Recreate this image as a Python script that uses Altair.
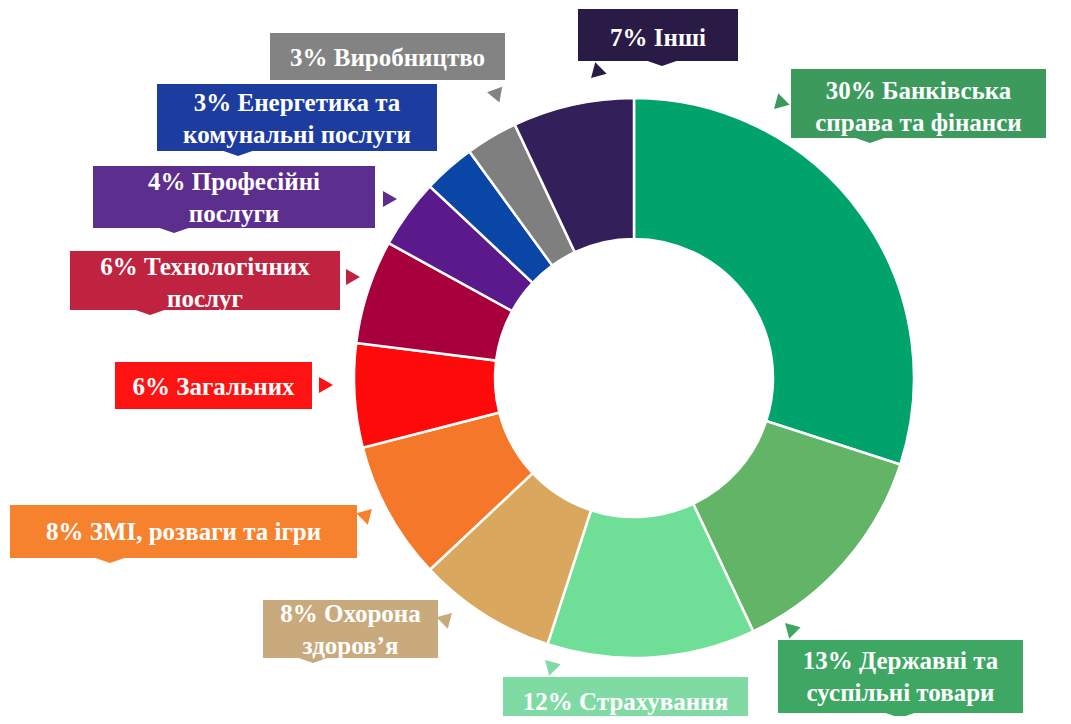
import altair as alt
import pandas as pd

# ---------------- data ----------------
categories = [
    "Банківська справа та фінанси", "Державні та суспільні товари", "Страхування",
    "Охорона здоров’я", "ЗМІ, розваги та ігри", "Загальних", "Технологічних послуг",
    "Професійні послуги", "Енергетика та комунальні послуги", "Виробництво", "Інші",
]
values = [30, 13, 12, 8, 8, 6, 6, 4, 3, 3, 7]
label_lines = [
    ["30% Банківська", "справа та фінанси"],
    ["13% Державні та", "суспільні товари"],
    ["12%  Страхування"],
    ["8% Охорона", "здоров’я"],
    ["8% ЗМІ, розваги та ігри"],
    ["6% Загальних"],
    ["6% Технологічних", "послуг"],
    ["4% Професійні", "послуги"],
    ["3% Енергетика та", "комунальні послуги"],
    ["3% Виробництво"],
    ["7% Інші"],
]

# ---------------- styles ----------------
slice_colors = ["#00A36C", "#62B466", "#6FDE97", "#D9A85E", "#F5782A", "#FF0A0A",
                "#A8003C", "#5A1A8C", "#0A46A6", "#7F7F7F", "#33205A"]
box_colors = ["#3C9A5D", "#3DA763", "#7FDBA3", "#C8AA7C", "#F7822E", "#FF1212",
              "#C0233F", "#5C2E8E", "#1C3CA0", "#838383", "#2A1A46"]
FONT_SIZE = 25
LINE_H = 32

# ---------------- layout (page pixel coords) ----------------
M = 8
W, H = 1071 - 2 * M, 724 - 2 * M
box_x1 = [791, 778, 503, 263, 10, 115, 70, 93, 157, 270, 578]
box_x2 = [1046, 1023, 748, 438, 357, 312, 340, 375, 437, 505, 738]
box_y1 = [69, 640, 677, 600, 505, 362, 251, 166, 84, 33, 9]
box_y2 = [138, 713, 726, 658, 558, 409, 310, 228, 151, 80, 61]
text_cy = [107, 677, 702, 630, 532, 387, 283, 198, 119, 58, 38]
ptr_x = [779, 790, 550, 447, 367, 326, 353, 390, None, 497, 596]
ptr_y = [104, 628, 665, 618, 514, 385, 277, 199, None, 96, 73]
ptr_a = [225, 315, 315, 45, 45, 90, 90, 90, 0, 160, 225]
notch_x = [870, 900, None, 313, 110, None, 150, 174, 238, None, 662]
notch_y = [138, 713, None, 658, 558, None, 310, 228, 151, None, 61]

pie = pd.DataFrame({"category": categories, "value": values,
                    "order": list(range(len(values))), "fill": slice_colors})

boxes = pd.DataFrame({
    "category": categories, "fill": box_colors,
    "x1": [v - M for v in box_x1], "x2": [v - M for v in box_x2],
    "y1": [v - M for v in box_y1], "y2": [v - M for v in box_y2],
})

text_rows = []
for lines, x1, x2, cy in zip(label_lines, box_x1, box_x2, text_cy):
    n = len(lines)
    for i, line in enumerate(lines):
        text_rows.append({"text": line, "x": (x1 + x2) / 2 - M,
                          "y": cy - M + (i - (n - 1) / 2) * LINE_H})
texts_df = pd.DataFrame(text_rows)

ptrs = pd.DataFrame([
    {"x": px - M, "y": py - M, "angle": a, "fill": c}
    for px, py, a, c in zip(ptr_x, ptr_y, ptr_a, box_colors) if px is not None
])
notches = pd.DataFrame([
    {"x": nx - M, "y": ny - M, "fill": c}
    for nx, ny, c in zip(notch_x, notch_y, box_colors) if nx is not None
])

xs = alt.Scale(domain=[0, W], range=[0, W], nice=False, zero=False)
ys = alt.Scale(domain=[0, H], range=[0, H], nice=False, zero=False)

arcs = alt.Chart(pie).mark_arc(innerRadius=139, outerRadius=280,
                               stroke="white", strokeWidth=2.5).encode(
    theta=alt.Theta("value:Q", stack=True),
    order=alt.Order("order:Q"),
    color=alt.Color("fill:N", scale=None),
    x=alt.value(634 - M),
    y=alt.value(378 - M),
)

rects = alt.Chart(boxes).mark_rect().encode(
    x=alt.X("x1:Q", scale=xs, axis=None), x2="x2:Q",
    y=alt.Y("y1:Q", scale=ys, axis=None), y2="y2:Q",
    color=alt.Color("fill:N", scale=None),
)

pointer = alt.Chart(ptrs).mark_point(shape="triangle-up", filled=True, opacity=1,
                                     size=260, strokeWidth=0).encode(
    x=alt.X("x:Q", scale=xs, axis=None),
    y=alt.Y("y:Q", scale=ys, axis=None),
    angle=alt.Angle("angle:Q", scale=None),
    color=alt.Color("fill:N", scale=None),
)

notch = alt.Chart(notches).mark_point(shape="M-1,-0.05L1,-0.05L0,0.3Z", filled=True,
                                      opacity=1, size=1100, strokeWidth=0).encode(
    x=alt.X("x:Q", scale=xs, axis=None),
    y=alt.Y("y:Q", scale=ys, axis=None),
    color=alt.Color("fill:N", scale=None),
)

texts = alt.Chart(texts_df).mark_text(
    font="Liberation Serif", fontWeight="bold", fontSize=FONT_SIZE, color="white",
    align="center", baseline="middle",
).encode(
    x=alt.X("x:Q", scale=xs, axis=None),
    y=alt.Y("y:Q", scale=ys, axis=None),
    text="text:N",
)

chart = alt.layer(arcs, rects, notch, pointer, texts).properties(
    width=W, height=H, padding=0, autosize=alt.AutoSizeParams(type="none"),
    background="white",
).configure_view(stroke=None)

chart.save("out.html", embed_options={"renderer": "svg", "actions": False})
